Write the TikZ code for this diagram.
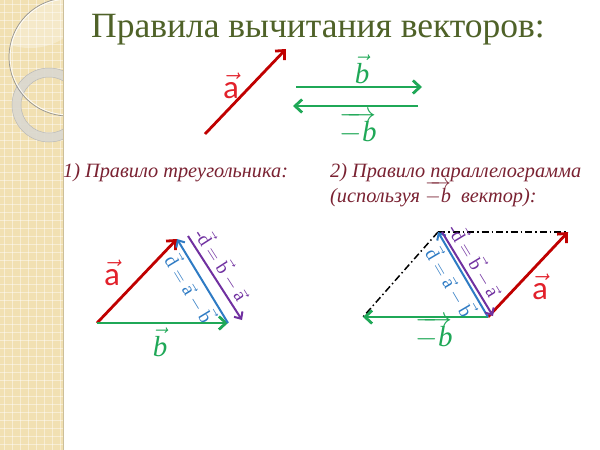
\RequirePackage{fix-cm}
\documentclass[tikz,border=0pt]{standalone}
\usepackage{fontspec}
\setmainfont{Liberation Serif}
\newfontfamily\calfont{Carlito}
\usetikzlibrary{arrows.meta,calc}
\definecolor{titlegreen}{HTML}{4F6228}
\definecolor{headred}{HTML}{7A2232}
\definecolor{vecred}{HTML}{C00000}
\definecolor{labred}{HTML}{E2212B}
\definecolor{vecgreen}{HTML}{1FA857}
\definecolor{vecblue}{HTML}{2E7BC4}
\definecolor{vecpurple}{HTML}{7030A0}
\definecolor{stripbg}{HTML}{F1E0B2}
\definecolor{stripedge}{HTML}{CDBF9A}
\definecolor{ringgray}{HTML}{DAD8D0}
\newcommand{\veca}{$\vec{\mbox{a}}$}
\newcommand{\vecb}{$\vec{\mbox{\itshape b}}$}
\newcommand{\vecmb}{$\overrightarrow{-\mbox{\itshape b}}$}
\newcommand{\vecsa}{\vec{\mbox{a}}}
\newcommand{\vecsb}{\vec{\mbox{b}}}
\newcommand{\vecsd}{\vec{\mbox{d}}}

\begin{document}
\begin{tikzpicture}[x=1pt,y=-1pt,
  vec/.style={line width=2.8pt,-{Straight Barb[length=7pt,width=13pt]}},
  thinvec/.style={line width=2pt,-{Straight Barb[length=5.5pt,width=10pt]}},
  dashdot/.style={line width=1.5pt,dash pattern=on 7pt off 3pt on 1.5pt off 3pt},
  alab/.style={text=labred,font=\calfont\fontsize{33}{36}\selectfont},
  blab/.style={text=vecgreen,font=\fontsize{29}{34}\selectfont},
  rotlab/.style={font=\fontsize{19}{22}\selectfont,sloped,inner sep=1pt},
  headtext/.style={text=headred,font=\fontsize{20.3}{24}\selectfont\itshape,anchor=base west,inner sep=0pt}]
\useasboundingbox (0,0) rectangle (600,450);
\fill[white] (0,0) rectangle (600,450);
% left strip
\fill[stripbg] (0,0) rectangle (63,450);
\foreach \gx in {4,12,...,60}
  \draw[white,opacity=0.45,line width=0.7pt] (\gx,0) -- (\gx,450);
\foreach \gy in {4,12,...,450}
  \draw[white,opacity=0.45,line width=0.7pt] (0,\gy) -- (63,\gy);
\begin{scope}
  \clip (0,0) rectangle (63,450);
  \begin{scope}
    \clip (68,57) circle (59pt);
    \fill[white,opacity=0.3] (30,10) ellipse (50pt and 38pt);
  \end{scope}
  \draw[ringgray,opacity=0.9,line width=9pt] (49,105) circle (32.5pt);
  \draw[gray!55,line width=0.5pt] (49,105) circle (37pt) (49,105) circle (28pt);
  \draw[gray!85,line width=0.7pt] (68,57) circle (59pt);
  \draw[white,line width=0.6pt] (68,57) circle (57.8pt);
\end{scope}
\draw[stripedge,line width=1.6pt] (63.5,0) -- (63.5,450);
% title
\node[text=titlegreen,font=\fontsize{35.5}{40}\selectfont,anchor=base] (title) at (318,37) {Правила вычитания векторов:};
% given vectors
\coordinate (a0) at (205,134);
\coordinate (a1) at (286,49);
\draw[vec,vecred] (a0) -- (a1);
\node[alab] (la) at (231,86) {\veca};
\coordinate (b0) at (296,87);
\coordinate (b1) at (422,87);
\draw[vec,vecgreen] (b0) -- (b1);
\node[blab] (lb) at (362,69) {\vecb};
\coordinate (m0) at (418,106);
\coordinate (m1) at (293,106);
\draw[vec,vecgreen] (m0) -- (m1);
\node[blab] (lmb) at (358,128) {\vecmb};
% headings
\node[headtext] (h1) at (63,177) {1) Правило треугольника:};
\node[headtext] (h2) at (330,177) {2) Правило параллелограмма};
\node[headtext] (h3) at (330,202) {(используя $\overrightarrow{-\mbox{b}}$\ \ вектор):};
% triangle rule
\coordinate (O) at (97,323);
\coordinate (A) at (177,239);
\coordinate (B) at (228,323);
\draw[vec,vecred] (O) -- (A);
\draw[vec,vecgreen] (O) -- (B);
\draw[thinvec,vecblue] (B) -- (A)
  node[rotlab,text=vecblue,midway,below=2pt] {$\vecsd=\vecsa-\vecsb$};
\coordinate (pA) at ($(A)+(11,-3)$);
\coordinate (pB) at ($(B)+(14,-3)$);
\draw[thinvec,vecpurple] (pA) -- (pB)
  node[rotlab,text=vecpurple,pos=0.42,above=2pt] {-$\vecsd=\vecsb-\vecsa$};
\node[alab] (ta) at (112,273) {\veca};
\node[blab] (tb) at (160,342) {\vecb};
% parallelogram rule
\coordinate (P) at (488,317);
\coordinate (T) at (438,232);
\coordinate (L) at (363,317);
\coordinate (R) at (568,232);
\draw[dashdot] (T) -- (R);
\draw[dashdot] (T) -- (L);
\draw[vec,vecgreen] (P) -- (L);
\draw[vec,vecred] (P) -- (R);
\draw[thinvec,vecblue] (P) -- (T)
  node[rotlab,text=vecblue,midway,below=2pt] {$\vecsd=\vecsa-\vecsb$};
\coordinate (qT) at ($(T)+(4,0)$);
\coordinate (qP) at ($(P)+(5,-1)$);
\draw[thinvec,vecpurple] (qT) -- (qP)
  node[rotlab,text=vecpurple,pos=0.42,above=2pt] {-$\vecsd=\vecsb-\vecsa$};
\node[alab] (pa) at (540,287) {\veca};
\node[blab] (pmb) at (434,333) {\vecmb};
\end{tikzpicture}
\end{document}
